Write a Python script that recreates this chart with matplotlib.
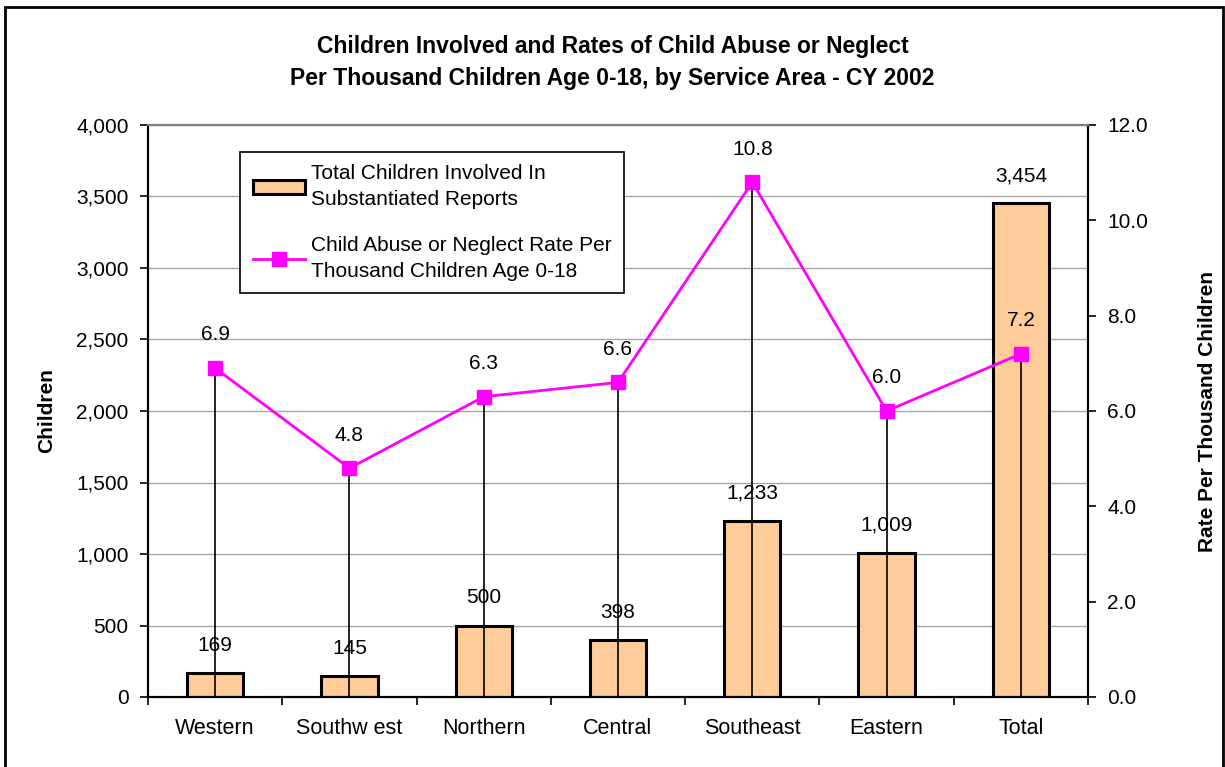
import matplotlib
matplotlib.use('Agg')
import matplotlib.pyplot as plt
from matplotlib.patches import Rectangle
from matplotlib.ticker import FuncFormatter, FixedLocator

plt.rcParams['font.family'] = ['Liberation Sans', 'DejaVu Sans']

areas = ['Western', 'Southw est', 'Northern', 'Central', 'Southeast', 'Eastern', 'Total']
children = [169, 145, 500, 398, 1233, 1009, 3454]
rates = [6.9, 4.8, 6.3, 6.6, 10.8, 6.0, 7.2]

bar_color = '#FFCC99'
line_color = '#FF00FF'

fig = plt.figure(figsize=(12.25, 7.67), dpi=100)
ax = fig.add_axes([148 / 1225, 70 / 767, 940 / 1225, 572 / 767])
ax2 = ax.twinx()

x = list(range(len(areas)))
bars = ax.bar(x, children, width=0.42, color=bar_color, edgecolor='black', linewidth=2.2, zorder=2,
              label='Total Children Involved In\nSubstantiated Reports')
ax.set_xlim(-0.5, len(areas) - 0.5)
ax.set_ylim(0, 4000)
ax.set_yticks(range(0, 4001, 500))
ax.yaxis.set_major_formatter(FuncFormatter(lambda v, p: f'{int(v):,}'))
ax.grid(axis='y', color='#A6A6A6', linewidth=1.0, zorder=0)
ax.set_axisbelow(True)

ax.set_xticks(x)
ax.set_xticklabels(areas, fontsize=15.5)
ax.xaxis.set_minor_locator(FixedLocator([i + 0.5 for i in range(-1, len(areas))]))
ax.tick_params(axis='x', which='major', length=0, pad=15)
ax.tick_params(axis='x', which='minor', length=6, width=1.2, direction='out')
ax.tick_params(axis='y', labelsize=15, length=6, width=1.2, direction='out', pad=8)

for i, v in enumerate(children):
    ax.annotate(f'{v:,}', (i, v), xytext=(0, 13), textcoords='offset points',
                ha='center', va='bottom', fontsize=15)

# drop lines from rate markers down to axis
ax2.vlines(x, 0, rates, color='black', linewidth=1.2, zorder=3)
line, = ax2.plot(x, rates, color=line_color, linewidth=2, marker='s', markersize=10.5,
                 zorder=4, label='Child Abuse or Neglect Rate Per\nThousand Children Age 0-18')
for i, r in enumerate(rates):
    ax2.annotate(f'{r:.1f}', (i, r), xytext=(0, 17), textcoords='offset points',
                 ha='center', va='bottom', fontsize=15)
ax2.set_ylim(0, 12)
ax2.set_yticks([0, 2, 4, 6, 8, 10, 12])
ax2.yaxis.set_major_formatter(FuncFormatter(lambda v, p: f'{v:.1f}'))
ax2.tick_params(axis='y', labelsize=15, length=6, width=1.2, direction='out', pad=8)

for a in (ax, ax2):
    a.spines['top'].set_color('#808080')
    a.spines['top'].set_linewidth(1.5)
    a.spines['left'].set_linewidth(1.5)
    a.spines['right'].set_linewidth(1.5)
    a.spines['bottom'].set_linewidth(1.5)

ax.set_ylabel('Children', fontsize=15, fontweight='bold', labelpad=14)
ax2.set_ylabel('Rate Per Thousand Children', fontsize=15, fontweight='bold', labelpad=36)

fig.text(0.5, 1 - 47 / 767, 'Children Involved and Rates of Child Abuse or Neglect',
         ha='center', va='center', fontsize=16.5, fontweight='bold')
fig.text(0.5, 1 - 79 / 767, 'Per Thousand Children Age 0-18, by Service Area - CY 2002',
         ha='center', va='center', fontsize=16.5, fontweight='bold')

leg = ax2.legend([bars, line], [bars.get_label(), line.get_label()],
                 loc='upper left', bbox_to_anchor=(0.098, 0.953), borderaxespad=0,
                 fontsize=15, frameon=True, fancybox=False, edgecolor='black', framealpha=1,
                 handlelength=2.5, labelspacing=1.3, borderpad=0.6, handletextpad=0.3)
for t in leg.get_texts():
    t.set_linespacing(1.45)
leg.get_frame().set_linewidth(1.2)

fig.patches.append(Rectangle((5 / 1225, -0.01), 1218 / 1225, 1 - 7 / 767 + 0.01,
                             transform=fig.transFigure, fill=False,
                             edgecolor='black', linewidth=2))

fig.savefig('out.png', dpi=100)
